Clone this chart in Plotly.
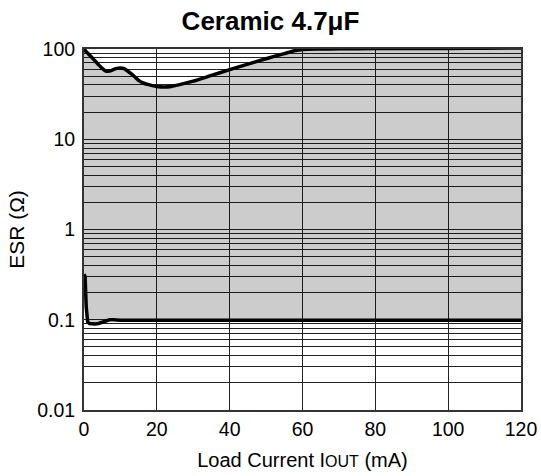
import plotly.graph_objects as go

# Upper ESR boundary (Ω) vs load current (mA)
upper_x = [0, 1, 2, 3, 4, 5, 6, 7, 8, 9, 10, 11, 12, 13, 14, 15, 16, 18, 20, 22, 24, 26, 30, 35, 40, 45, 50, 55, 58, 60, 65, 70, 80, 90, 100, 110, 120]
upper_y = [100, 90, 82, 74, 67, 61, 57, 57, 59, 61, 61.5, 60.5, 57, 53, 49, 45, 42.5, 40, 38.5, 38, 38.5, 40, 44, 51, 59, 68, 78, 89, 96, 99, 100, 100.5, 101, 101, 101.5, 102, 102.5]

# Lower ESR boundary (Ω) vs load current (mA)
lower_x = [0, 0.3, 0.6, 1, 1.5, 2, 3, 4, 5, 6, 7, 8, 10, 20, 40, 60, 80, 100, 120]
lower_y = [0.32, 0.3, 0.14, 0.095, 0.091, 0.09, 0.09, 0.091, 0.094, 0.098, 0.1, 0.1, 0.099, 0.099, 0.099, 0.099, 0.099, 0.099, 0.099]

x_ticks = [0, 20, 40, 60, 80, 100, 120]
x_tick_labels = ["0", "20", "40", "60", "80", "100", "120"]
y_decades = [0.01, 0.1, 1, 10, 100]
y_decade_labels = ["0.01", "0.1", "1", "10", "100"]

title_text = "Ceramic 4.7μF"
x_title = "Load Current I<span style='font-size:16px'>OUT</span> (mA)"
y_title = "ESR (Ω)"

# all log grid lines 1..9 x 10^n
y_tickvals = []
y_ticktext = []
for d, lab in zip(y_decades, y_decade_labels):
    for m in range(1, 10):
        v = d * m
        if v > 100.0001:
            break
        y_tickvals.append(v)
        y_ticktext.append(lab if m == 1 else "")

fig = go.Figure()

# shaded stable region
fig.add_trace(go.Scatter(
    x=upper_x + lower_x[::-1],
    y=upper_y + lower_y[::-1],
    fill="toself", fillcolor="rgba(0,0,0,0.2)",
    line=dict(width=0), mode="lines", hoverinfo="skip", showlegend=False))

fig.add_trace(go.Scatter(x=upper_x, y=upper_y, mode="lines",
                         line=dict(color="black", width=3.5, shape="spline", smoothing=0.6),
                         showlegend=False))
fig.add_trace(go.Scatter(x=lower_x, y=lower_y, mode="lines",
                         line=dict(color="black", width=3.5),
                         showlegend=False))

font_family = "Liberation Sans, Arial, sans-serif"

fig.update_layout(
    width=541, height=476,
    margin=dict(l=84, r=20, t=49, b=66, autoexpand=False),
    paper_bgcolor="white", plot_bgcolor="white",
    font=dict(family=font_family, color="black", size=19),
    title=dict(text="<b>" + title_text + "</b>", x=0.5, xanchor="center",
               y=0.956, yanchor="middle", font=dict(size=26, family=font_family, color="black")),
)

fig.update_xaxes(
    range=[0, 120], tickvals=x_ticks, ticktext=x_tick_labels,
    showgrid=True, gridcolor="#222", gridwidth=1,
    showline=True, linecolor="#333", linewidth=2, mirror=True,
    ticks="", zeroline=False, ticklabelstandoff=1, automargin=False,
    ticklabeloverflow="allow",
    title=dict(text=x_title, font=dict(size=20), standoff=14),
    tickfont=dict(size=19.5),
)
fig.update_yaxes(
    type="log", range=[-2, 2], tickvals=y_tickvals, ticktext=y_ticktext,
    showgrid=True, gridcolor="#222", gridwidth=1,
    showline=True, linecolor="#333", linewidth=2, mirror=True,
    ticks="", zeroline=False, ticklabelstandoff=3, automargin=False,
    ticklabeloverflow="allow",
    title=dict(text=y_title, font=dict(size=21), standoff=7),
    tickfont=dict(size=19.5),
)

fig.write_html("out.html", config={"displayModeBar": False},
               post_script="document.body.style.margin='0';")
